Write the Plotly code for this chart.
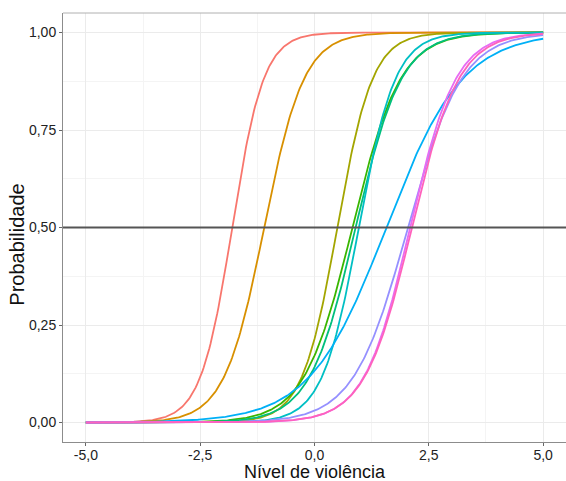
import numpy as np
import plotly.graph_objects as go

# Item parameters (slope at 0.5 crossing, location of 0.5 crossing)
item_colors = ["#F8766D", "#D89000", "#A3A500", "#39B600", "#00BF7D",
               "#00BFC4", "#00B0F6", "#9590FF", "#E76BF3", "#FF62BC"]
discrimination = [2.9, 2.3, 2.6, 1.9, 2.0, 2.5, 1.2, 1.7, 2.0, 1.95]
difficulty = [-1.80, -1.10, 0.50, 0.83, 0.90, 0.97, 1.57, 2.04, 2.09, 2.13]

x_ticks = [-5, -2.5, 0, 2.5, 5]
x_ticktext = ["-5,0", "-2,5", "0,0", "2,5", "5,0"]
y_ticks = [0, 0.25, 0.5, 0.75, 1.0]
y_ticktext = ["0,00", "0,25", "0,50", "0,75", "1,00"]
reference_prob = 0.5

theta = np.linspace(-5, 5, 401)

fig = go.Figure()
for col, a, b in zip(item_colors, discrimination, difficulty):
    p = 1.0 / (1.0 + np.exp(-a * (theta - b)))
    fig.add_trace(go.Scatter(x=theta, y=p, mode="lines",
                             line=dict(color=col, width=1.8),
                             showlegend=False, hoverinfo="skip"))

fig.add_hline(y=reference_prob, line=dict(color="#555555", width=2))

fig.add_shape(type="line", xref="paper", yref="paper", x0=0, x1=1, y0=1, y1=1,
              line=dict(color="#B0B0B0", width=1))

axis_font = dict(family="Liberation Sans, Arial, sans-serif", size=14, color="#222222")
xtitle_font = dict(family="Liberation Sans, Arial, sans-serif", size=18, color="#111111")
ytitle_font = dict(family="Liberation Sans, Arial, sans-serif", size=20, color="#111111")

fig.update_layout(
    width=566, height=481,
    margin=dict(l=63, r=0, t=13, b=39),
    paper_bgcolor="white", plot_bgcolor="white",
    xaxis=dict(range=[-5.5, 5.5], tickvals=x_ticks, ticktext=x_ticktext,
               showgrid=True, gridcolor="#EBEBEB", gridwidth=1,
               minor=dict(tickvals=[-3.75, -1.25, 1.25, 3.75], showgrid=True,
                          gridcolor="#F4F4F4", gridwidth=0.6),
               zeroline=False, showline=True, linecolor="#8C8C8C", linewidth=1,
               ticks="outside", ticklen=3, tickcolor="#666666",
               ticklabelstandoff=-3,
               tickfont=axis_font),
    yaxis=dict(range=[-0.05, 1.05], tickvals=y_ticks, ticktext=y_ticktext,
               showgrid=True, gridcolor="#EBEBEB", gridwidth=1,
               minor=dict(tickvals=[0.125, 0.375, 0.625, 0.875], showgrid=True,
                          gridcolor="#F4F4F4", gridwidth=0.6),
               zeroline=False, showline=True, linecolor="#8C8C8C", linewidth=1,
               ticks="outside", ticklen=3, tickcolor="#666666",
               tickfont=axis_font),
    annotations=[
        dict(text="Nível de violência", xref="paper", yref="paper",
             x=0.5, y=0, yshift=-42, xanchor="center", yanchor="bottom",
             showarrow=False, font=xtitle_font),
        dict(text="Probabilidade", xref="paper", yref="paper",
             x=0, xshift=-33, y=0.46, xanchor="right", yanchor="middle",
             textangle=-90, showarrow=False, font=ytitle_font),
    ],
)

fig.write_html("out.html")
